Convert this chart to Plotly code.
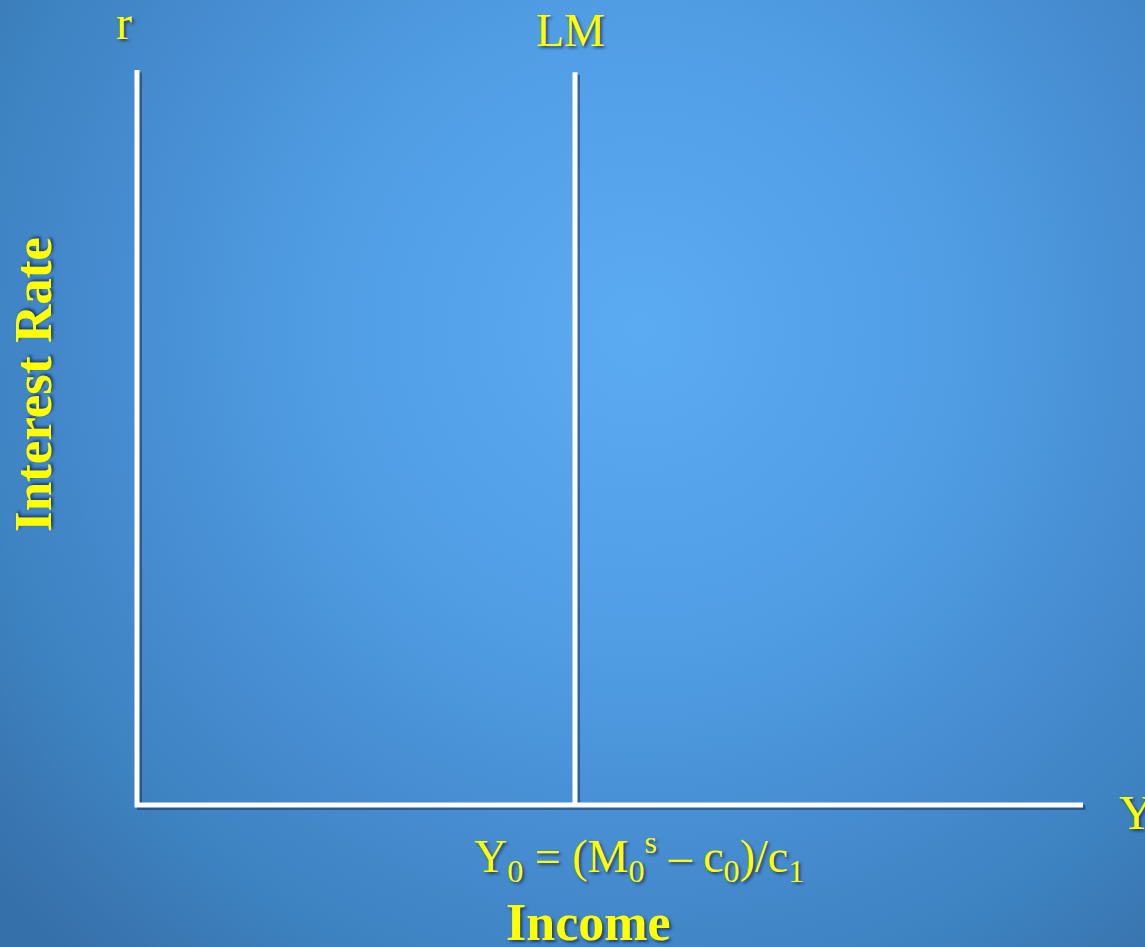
import plotly.graph_objects as go

# ---------------- data ----------------
income_extent = [0.0, 1.0]      # horizontal axis (Income, Y)
rate_extent = [0.0, 1.0]        # vertical axis (Interest rate, r)
y0_value = 0.463                # Y0 where the vertical LM curve sits
lm_rate = [0.0, 0.997]          # LM vertical extent

axis_labels = {"y_top": "r", "x_right": "Y", "lm": "LM"}
x_title = "Income"
y_title = "Interest Rate"
y0_formula = "Y<sub>0</sub> = (M<sub>0</sub><sup>s</sup> – c<sub>0</sub>)/c<sub>1</sub>"

# ---------------- layout geometry ----------------
W, H = 1145, 947
ox, oy = 137, 805          # pixel of origin
sx, sy = 946, 735          # pixels per unit
pad = 0.02
xr = [-pad, 1 + pad]
yr = [-pad, 1 + pad]
xdom = [(ox + xr[0] * sx) / W, (ox + xr[1] * sx) / W]
ydom = [(H - (oy - yr[0] * sy)) / H, (H - (oy - yr[1] * sy)) / H]

fig = go.Figure()

# background radial gradient (pixel overlay axes)
cx, cy, R = 640, 330, 850
fig.add_trace(go.Scatter(
    x=[cx - R, cx + R, cx + R, cx - R, cx - R],
    y=[cy - R, cy - R, cy + R, cy + R, cy - R],
    mode="lines", line=dict(width=0), fill="toself",
    fillgradient=dict(type="radial", colorscale=[
        [0.0, "#5BABF3"], [0.38, "#509DE4"], [0.62, "#468CD0"],
        [0.8, "#3D82C0"], [0.9, "#3A78B4"], [1.0, "#3670AA"]]),
    hoverinfo="skip", showlegend=False, xaxis="x", yaxis="y"))

shadow = "rgba(10,30,70,0.45)"
dx, dy = 2.5 / sx, -2.5 / sy

axis_x = [income_extent[0], income_extent[0], income_extent[1]]
axis_y = [rate_extent[1], rate_extent[0], rate_extent[0]]
lm_x = [y0_value, y0_value]

# shadows
fig.add_trace(go.Scatter(x=[v + dx for v in axis_x], y=[v + dy for v in axis_y],
                         mode="lines", line=dict(color=shadow, width=5),
                         hoverinfo="skip", showlegend=False, xaxis="x2", yaxis="y2"))
fig.add_trace(go.Scatter(x=[v + dx for v in lm_x], y=[v + dy for v in lm_rate],
                         mode="lines", line=dict(color=shadow, width=5),
                         hoverinfo="skip", showlegend=False, xaxis="x2", yaxis="y2"))
# axes and LM
fig.add_trace(go.Scatter(x=axis_x, y=axis_y, mode="lines",
                         line=dict(color="white", width=5),
                         hoverinfo="skip", showlegend=False, xaxis="x2", yaxis="y2"))
fig.add_trace(go.Scatter(x=lm_x, y=lm_rate, mode="lines",
                         line=dict(color="white", width=5),
                         hoverinfo="skip", showlegend=False, xaxis="x2", yaxis="y2"))

serif = "Liberation Serif, Times New Roman, serif"
tshadow = "2px 2px 3px rgba(0,0,40,0.55)"

def ann(text, x, y, size, bold=False, angle=0, xanchor="center"):
    fig.add_annotation(
        text=f"<b>{text}</b>" if bold else text, x=x, y=y, xref="x", yref="y",
        showarrow=False, textangle=angle, xanchor=xanchor, yanchor="middle",
        font=dict(family=serif, size=size, color="#FFFF00", shadow=tshadow))

ann(axis_labels["y_top"], 124, 22, 48)
ann(axis_labels["lm"], 570, 30, 46)
ann(axis_labels["x_right"], 1117, 812, 48, xanchor="left")
ann(y0_formula, 639, 856, 46)
ann(x_title, 588, 922, 52, bold=True)
ann(y_title, 33, 385, 53, bold=True, angle=-90)

hidden = dict(showgrid=False, zeroline=False, showticklabels=False,
              showline=False, ticks="", fixedrange=True)
fig.update_layout(
    width=W, height=H, margin=dict(l=0, r=0, t=0, b=0),
    paper_bgcolor="#3F85C4", plot_bgcolor="rgba(0,0,0,0)",
    xaxis=dict(range=[0, W], domain=[0, 1], **hidden),
    yaxis=dict(range=[H, 0], domain=[0, 1], **hidden),
    xaxis2=dict(range=xr, domain=xdom, anchor="y2", **hidden),
    yaxis2=dict(range=yr, domain=ydom, anchor="x2", **hidden),
    showlegend=False,
)

fig.write_html(
    "out.html", config={"displayModeBar": False},
    post_script="document.body.style.margin='0';document.body.style.overflow='hidden';",
)
